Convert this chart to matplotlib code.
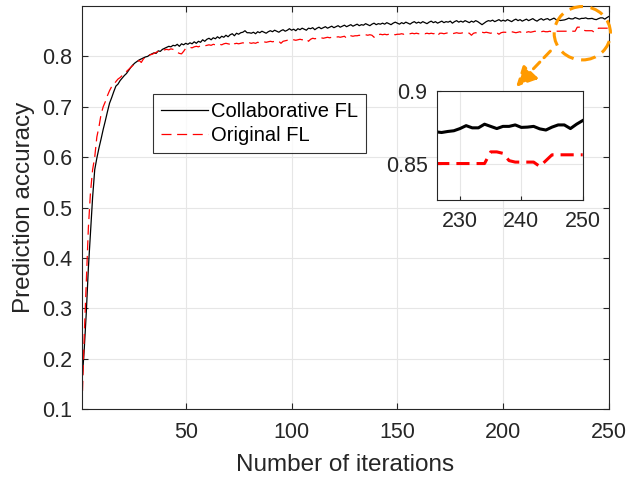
import numpy as np
import matplotlib.pyplot as plt
from matplotlib.patches import Ellipse

plt.rcParams['font.family'] = ['Liberation Sans', 'DejaVu Sans']

iterations = np.arange(1, 251)

# Collaborative FL accuracy, one value per iteration
collab_acc = [
    0.155, 0.215, 0.290, 0.380, 0.450, 0.520, 0.575, 0.598, 0.618, 0.636,
    0.655, 0.672, 0.690, 0.707, 0.718, 0.730, 0.741, 0.745, 0.752, 0.757,
    0.762, 0.766, 0.772, 0.778, 0.783, 0.787, 0.790, 0.793, 0.795, 0.797,
    0.799, 0.800, 0.803, 0.805, 0.807, 0.806, 0.811, 0.810, 0.814, 0.816,
    0.818, 0.820, 0.819, 0.822, 0.821, 0.824, 0.820, 0.825, 0.823, 0.826,
    0.824, 0.827, 0.825, 0.829, 0.826, 0.830, 0.828, 0.833, 0.830, 0.834,
    0.836, 0.833, 0.837, 0.835, 0.839, 0.836, 0.840, 0.838, 0.842, 0.839,
    0.843, 0.845, 0.841, 0.846, 0.844, 0.847, 0.848, 0.851, 0.847, 0.847,
    0.846, 0.848, 0.845, 0.849, 0.847, 0.850, 0.848, 0.846, 0.849, 0.851,
    0.849, 0.852, 0.850, 0.848, 0.851, 0.853, 0.850, 0.852, 0.855, 0.852,
    0.854, 0.851, 0.855, 0.853, 0.856, 0.854, 0.852, 0.856, 0.855, 0.857,
    0.853, 0.856, 0.858, 0.855, 0.857, 0.859, 0.856, 0.858, 0.860, 0.857,
    0.859, 0.861, 0.858, 0.860, 0.862, 0.859, 0.861, 0.863, 0.860, 0.862,
    0.864, 0.861, 0.863, 0.862, 0.865, 0.863, 0.861, 0.864, 0.866, 0.863,
    0.865, 0.864, 0.866, 0.864, 0.867, 0.865, 0.863, 0.866, 0.868, 0.866,
    0.864, 0.867, 0.865, 0.868, 0.866, 0.864, 0.867, 0.869, 0.866, 0.868,
    0.866, 0.869, 0.867, 0.865, 0.868, 0.870, 0.867, 0.869, 0.866, 0.868,
    0.870, 0.867, 0.869, 0.868, 0.870, 0.866, 0.869, 0.871, 0.868, 0.870,
    0.868, 0.871, 0.869, 0.867, 0.870, 0.868, 0.871, 0.869, 0.866, 0.863,
    0.866, 0.869, 0.871, 0.870, 0.872, 0.869, 0.871, 0.873, 0.870, 0.872,
    0.870, 0.873, 0.871, 0.869, 0.872, 0.874, 0.871, 0.873, 0.870, 0.872,
    0.874, 0.871, 0.873, 0.875, 0.872, 0.870, 0.873, 0.875, 0.872, 0.874,
    0.875, 0.872, 0.874, 0.876, 0.873, 0.8718, 0.8713, 0.872, 0.8725, 0.874,
    0.876, 0.8745, 0.8745, 0.877, 0.8755, 0.874, 0.8755, 0.8755, 0.8765, 0.8748,
    0.875, 0.8755, 0.8738, 0.873, 0.875, 0.8765, 0.8765, 0.874, 0.877, 0.8795,
]

# Original FL accuracy
orig_acc = [
    0.105, 0.240, 0.350, 0.460, 0.530, 0.575, 0.600, 0.640, 0.660, 0.685,
    0.700, 0.710, 0.722, 0.732, 0.740, 0.744, 0.750, 0.755, 0.758, 0.762,
    0.765, 0.770, 0.774, 0.778, 0.782, 0.786, 0.789, 0.792, 0.788, 0.795,
    0.798, 0.801, 0.803, 0.804, 0.806, 0.808, 0.810, 0.811, 0.812, 0.813,
    0.814, 0.813, 0.815, 0.814, 0.812, 0.808, 0.806, 0.805, 0.810, 0.816,
    0.817, 0.818, 0.817, 0.819, 0.820, 0.819, 0.821, 0.822, 0.821, 0.822,
    0.823, 0.822, 0.824, 0.823, 0.825, 0.824, 0.823, 0.825, 0.826, 0.825,
    0.824, 0.821, 0.825, 0.826, 0.825, 0.826, 0.827, 0.826, 0.825, 0.827,
    0.826, 0.827, 0.826, 0.828, 0.827, 0.828, 0.829, 0.828, 0.829, 0.830,
    0.829, 0.830, 0.831, 0.830, 0.826, 0.830, 0.831, 0.832, 0.831, 0.832,
    0.833, 0.832, 0.833, 0.834, 0.833, 0.834, 0.835, 0.830, 0.834, 0.836,
    0.835, 0.836, 0.835, 0.837, 0.836, 0.837, 0.838, 0.837, 0.838, 0.837,
    0.838, 0.839, 0.838, 0.839, 0.840, 0.836, 0.840, 0.841, 0.840, 0.841,
    0.841, 0.842, 0.841, 0.842, 0.843, 0.842, 0.843, 0.842, 0.838, 0.843,
    0.843, 0.844, 0.843, 0.844, 0.843, 0.844, 0.845, 0.844, 0.843, 0.844,
    0.844, 0.845, 0.844, 0.845, 0.844, 0.845, 0.846, 0.845, 0.846, 0.845,
    0.845, 0.846, 0.845, 0.846, 0.845, 0.846, 0.845, 0.846, 0.841, 0.846,
    0.846, 0.845, 0.846, 0.847, 0.846, 0.845, 0.846, 0.847, 0.846, 0.846,
    0.847, 0.846, 0.847, 0.846, 0.842, 0.846, 0.847, 0.846, 0.847, 0.848,
    0.847, 0.848, 0.847, 0.846, 0.847, 0.848, 0.847, 0.844, 0.847, 0.848,
    0.848, 0.847, 0.848, 0.849, 0.848, 0.847, 0.848, 0.849, 0.846, 0.849,
    0.848, 0.849, 0.848, 0.849, 0.850, 0.849, 0.850, 0.849, 0.850, 0.849,
    0.849, 0.850, 0.849, 0.850, 0.850, 0.850, 0.850, 0.850, 0.850, 0.850,
    0.850, 0.850, 0.850, 0.850, 0.858, 0.858, 0.857, 0.852, 0.851, 0.851,
    0.851, 0.851, 0.848, 0.852, 0.856, 0.856, 0.856, 0.856, 0.856, 0.856,
]

assert len(collab_acc) == 250 and len(orig_acc) == 250

main_xticks = [50, 100, 150, 200, 250]
main_yticks = [0.1, 0.2, 0.3, 0.4, 0.5, 0.6, 0.7, 0.8]
inset_xticks = [230, 240, 250]
inset_yticks = [0.85, 0.9]

axis_col = '#262626'
grid_col = '#e6e6e6'
orange = '#ff9a00'

fig = plt.figure(figsize=(6.29, 4.79), dpi=100)
ax = fig.add_axes([0.1304, 0.1462, 0.8378, 0.8412])

ax.plot(iterations, collab_acc, color='k', linewidth=0.9, label='Collaborative FL')
ax.plot(iterations, orig_acc, color='r', linewidth=0.9, linestyle=(0, (8, 4.5)),
        label='Original FL')

ax.set_xlim(1, 250)
ax.set_ylim(0.1, 0.9)
ax.set_xticks(main_xticks)
ax.set_yticks(main_yticks)
ax.set_yticklabels(['0.1', '0.2', '0.3', '0.4', '0.5', '0.6', '0.7', '0.8'])
ax.grid(True, color=grid_col, linewidth=0.8)
ax.set_axisbelow(True)
ax.tick_params(direction='in', top=True, right=True, length=4, width=0.8,
               labelsize=15.5, colors=axis_col, pad=7)
ax.tick_params(axis='x', pad=9.5)
for s in ax.spines.values():
    s.set_color(axis_col)
    s.set_linewidth(0.8)
ax.set_xlabel('Number of iterations', fontsize=17.5, color=axis_col, labelpad=8)
ax.set_ylabel('Prediction accuracy', fontsize=17.5, color=axis_col, labelpad=5)

leg = ax.legend(loc='upper left', bbox_to_anchor=(0.135, 0.781), borderaxespad=0,
                fontsize=14.5, frameon=True, fancybox=False, handlelength=2.35,
                handletextpad=0.15, borderpad=0.38, labelspacing=0.25)
leg.get_frame().set_edgecolor('k')
leg.get_frame().set_linewidth(0.8)

# orange highlight of the zoomed region
ell = Ellipse((237.4, 0.846), 26.6, 0.106, fill=False, edgecolor=orange,
              linewidth=2.2, linestyle=(0, (4.5, 2.5)), clip_on=False, zorder=5)
ax.add_patch(ell)
ax.annotate('', xy=(206.1, 0.7395), xytext=(222.3, 0.8106),
            arrowprops=dict(arrowstyle='-|>,head_length=1.2,head_width=0.6',
                            color=orange, linewidth=2.2, linestyle=(0, (3, 2)),
                            shrinkA=0, shrinkB=0))

# inset
axin = fig.add_axes([0.6952, 0.5825, 0.2312, 0.2282])
axin.plot(iterations, collab_acc, color='k', linewidth=2.2)
axin.plot(iterations, orig_acc, color='r', linewidth=2.2, linestyle=(0, (4.3, 2.3)))
axin.set_xlim(226.3, 250)
axin.set_ylim(0.825, 0.9)
axin.set_xticks(inset_xticks)
axin.set_yticks(inset_yticks)
axin.set_yticklabels(['0.85', '0.9'])
axin.grid(True, color=grid_col, linewidth=0.8)
axin.set_axisbelow(True)
axin.tick_params(direction='in', length=3, width=0.8, labelsize=15.5,
                 colors=axis_col, pad=7)
axin.tick_params(axis='x', pad=8)
for s in axin.spines.values():
    s.set_color(axis_col)
    s.set_linewidth(0.8)

fig.savefig('out.png', dpi=100)
